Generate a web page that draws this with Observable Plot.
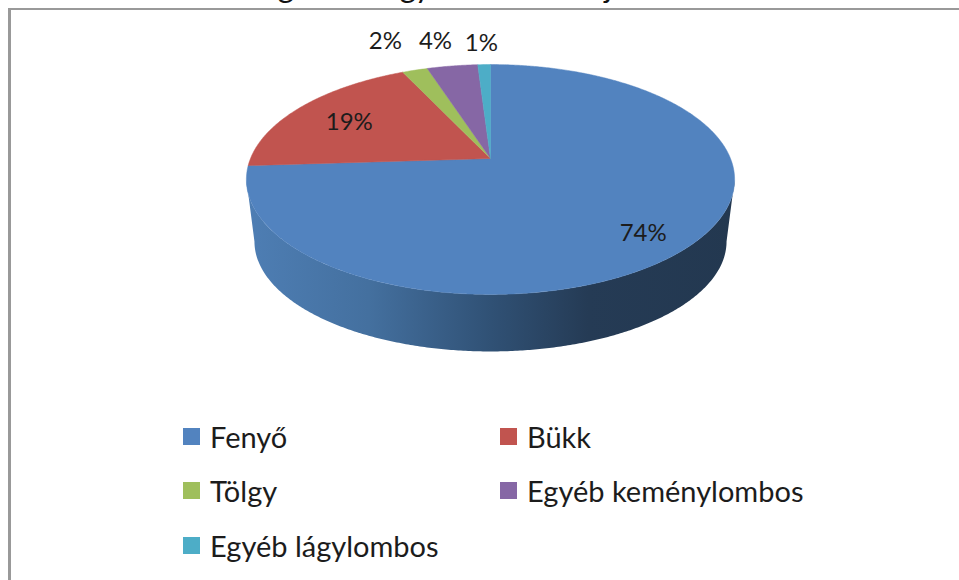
<!DOCTYPE html>
<html lang="hu">
<head>
<meta charset="utf-8">
<script src="https://cdn.jsdelivr.net/npm/d3@7"></script>
<script src="https://cdn.jsdelivr.net/npm/@observablehq/plot@0.6"></script>
<style>
  html, body { margin: 0; padding: 0; background: #fff; overflow: hidden; width: 959px; height: 580px; }
  body { position: relative; font-family: Lato, "Noto Sans", sans-serif; color: #1c1c1c; }
  #title { position: absolute; left: 0; top: -26px; width: 959px; white-space: nowrap; font-size: 31px; line-height: 24px; font-weight: 400; letter-spacing: -1.1px; color: #111; padding-left: 172px; box-sizing: border-box; }
  #frame { position: absolute; left: 8px; top: 8px; width: 951px; height: 572px; border-left: 3px solid #999; border-top: 2px solid #999; background: #fff; }
  #frame svg { display: block; }
  #clip { position: absolute; left: 0; top: 0; width: 959px; height: 8px; overflow: hidden; }
  #legend { display: grid; grid-template-columns: 317px 317px; grid-auto-rows: 54.5px; padding-left: 172px; font-size: 29px; margin-top: -1px; }
  #legend div { display: flex; align-items: center; gap: 10px; }
  #legend i { display: block; width: 17px; height: 17px; }
</style>
</head>
<body>
<div id="clip"><div id="title">Az ország erdei nagy területen fafajok szerint</div></div>
<div id="frame"></div>
<script>
const species = ["Fenyő", "Bükk", "Tölgy", "Egyéb keménylombos", "Egyéb lágylombos"];
const shares = [74, 19, 2, 4, 1];
const colors = ["#5283bf", "#c1544f", "#9fbf5c", "#8667a5", "#4dadc7"];
const labelRadius = [0.787, 0.73, 1.49, 1.568, 1.55];
const labelLift = [-0.08, -0.023, -0.053, -0.147, -0.175];
const wallStops = [[0, "#4e7eb4"], [0.25, "#44709f"], [0.5, "#305175"], [0.7, "#253b55"], [1, "#233850"]];

// Perspective of the tilted disc and its wall
const tilt = 0.1826;
const rimX = 0.967, rimU = 0.957, rimDrop = 0.566;
const project = (t, r = 1) => {
  const s = r * Math.cos(t), k = 1 + tilt * s;
  return {x: r * Math.sin(t) / k, y: s / k};
};
const step = Math.PI / 360;

const total = d3.sum(shares);
const cum = d3.cumsum(shares);
const slices = species.map((name, i) => ({
  name,
  share: shares[i],
  a0: 2 * Math.PI * (cum[i] - shares[i]) / total,
  a1: 2 * Math.PI * cum[i] / total,
  r: labelRadius[i],
  lift: labelLift[i]
}));

const slicePoints = slices.flatMap(d => {
  const n = Math.max(2, Math.ceil((d.a1 - d.a0) / step));
  const arc = d3.range(n + 1).map(i => project(d.a0 + (d.a1 - d.a0) * i / n));
  return [{x: 0, y: 0}, ...arc, {x: 0, y: 0}].map(p => ({...p, name: d.name}));
});

const tEdge = Math.acos(-tilt);
const frontArc = d3.range(tEdge, 2 * Math.PI - tEdge + step / 2, step).map(t => project(t));
const wallPoints = [
  ...frontArc,
  ...frontArc.slice().reverse().map(p => ({x: p.x * rimX, y: p.y * rimU - rimDrop}))
];

const labels = slices.map(d => {
  const p = project((d.a0 + d.a1) / 2, d.r);
  return {x: p.x, y: p.y + d.lift, text: d.share + "%"};
});

const defs = () => {
  const ns = "http://www.w3.org/2000/svg";
  const el = document.createElementNS(ns, "defs");
  const grad = document.createElementNS(ns, "linearGradient");
  grad.setAttribute("id", "wall");
  wallStops.forEach(([o, c]) => {
    const s = document.createElementNS(ns, "stop");
    s.setAttribute("offset", o);
    s.setAttribute("stop-color", c);
    grad.appendChild(s);
  });
  el.appendChild(grad);
  return el;
};

const chart = Plot.plot({
  width: 948,
  height: 400,
  margin: 0,
  axis: null,
  x: {domain: [-1, 1], range: [239, 719]},
  y: {domain: [-1, 1], range: [259.1, 36.9]},
  color: {domain: species, range: colors},
  style: {background: "transparent", overflow: "visible"},
  marks: [
    defs,
    Plot.line(wallPoints, {x: "x", y: "y", fill: "url(#wall)", stroke: "none"}),
    Plot.line(slicePoints, {x: "x", y: "y", z: "name", fill: "name", stroke: "name", strokeWidth: 0.5}),
    Plot.text(labels, {x: "x", y: "y", text: "text", fontSize: 24, fontFamily: "Lato, 'Noto Sans', sans-serif", fill: "#1c1c1c", lineAnchor: "middle"})
  ]
});
document.getElementById("frame").appendChild(chart);

const legend = d3.select("#frame").append("div").attr("id", "legend");
const item = legend.selectAll("div").data(species).join("div");
item.append("i").style("background", (d, i) => colors[i]);
item.append("span").text(d => d);
</script>
</body>
</html>
